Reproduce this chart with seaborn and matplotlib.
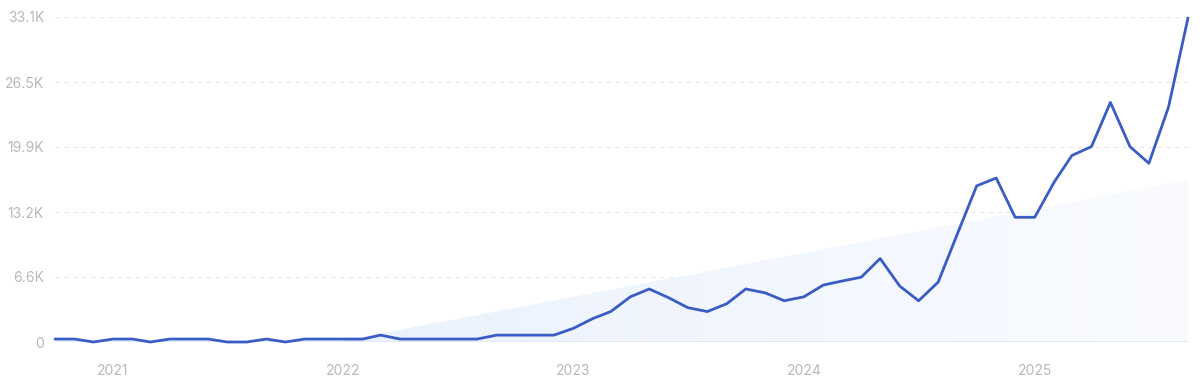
import numpy as np
import pandas as pd
import matplotlib
matplotlib.use('Agg')
import matplotlib.pyplot as plt
import matplotlib.dates as mdates
from matplotlib.colors import LinearSegmentedColormap
from matplotlib.patches import Polygon
import seaborn as sns

# 월별 검색량 (2020-10 ~ 2025-09)
months = pd.date_range('2020-10-01', periods=60, freq='MS')
volume = [
    300, 300, 0,
    300, 300, 0, 300, 300, 300, 0, 0, 300, 0, 300, 300,
    300, 300, 700, 300, 300, 300, 300, 300, 700, 700, 700, 700,
    1400, 2400, 3100, 4600, 5400, 4500, 3500, 3100, 3900, 5400, 5000, 4200,
    4600, 5800, 6200, 6600, 8500, 5700, 4200, 6100, 11100, 15900, 16700, 12700,
    12700, 16300, 19000, 19900, 24400, 19900, 18200, 23900, 33000,
]

# 추세 음영 (시작/끝)
trend_dates = pd.to_datetime(['2021-12-20', '2025-09-01'])
trend_values = [0, 16500]

y_ticks = [0, 6620, 13240, 19860, 26480, 33100]
y_labels = ['0', '6.6K', '13.2K', '19.9K', '26.5K', '33.1K']
year_ticks = pd.to_datetime(['2021-01-01', '2022-01-01', '2023-01-01', '2024-01-01', '2025-01-01'])
year_labels = ['2021', '2022', '2023', '2024', '2025']

df = pd.DataFrame({'month': months, 'volume': volume})

sns.set_style('white')
plt.rcParams['font.family'] = ['Inter', 'DejaVu Sans']

fig = plt.figure(figsize=(12, 3.89), dpi=100)
ax = fig.add_axes([55 / 1200, (389 - 342) / 389, 1133 / 1200, 325 / 389])

# 그라데이션 추세 영역
tx = mdates.date2num(trend_dates)
poly = Polygon([[tx[0], 0], [tx[1], trend_values[1]], [tx[1], 0]], closed=True,
               facecolor='none', edgecolor='none')
ax.add_patch(poly)
cmap = LinearSegmentedColormap.from_list('fade', ['#ebf2fd', '#f9fbff'])
grad = np.linspace(0, 1, 256).reshape(1, -1)
img = ax.imshow(grad, cmap=cmap, aspect='auto', extent=[tx[0], tx[1], 0, trend_values[1]],
                origin='lower', zorder=1)
img.set_clip_path(poly)

sns.lineplot(data=df, x='month', y='volume', ax=ax, color='#3a5cc5', linewidth=2.0,
             zorder=3, clip_on=False)

ax.set_xlim(months[0], months[-1])
ax.set_ylim(0, 33100)
ax.set_yticks(y_ticks)
ax.set_yticklabels(y_labels)
ax.set_xticks(year_ticks)
ax.set_xticklabels(year_labels)
ax.tick_params(axis='both', length=0, labelsize=10, labelcolor='#b8b8b8')
ax.tick_params(axis='y', pad=8)
ax.tick_params(axis='x', pad=16)
ax.set_xlabel('')
ax.set_ylabel('')

for v in y_ticks[1:]:
    ax.axhline(v, color='#e6e6e6', linestyle=(0, (4, 4)), linewidth=0.8, zorder=0)
ax.axhline(0, color='#dde6f6', linewidth=1.2, zorder=2)

for s in ax.spines.values():
    s.set_visible(False)

plt.savefig('out.png', dpi=100)
plt.close()
